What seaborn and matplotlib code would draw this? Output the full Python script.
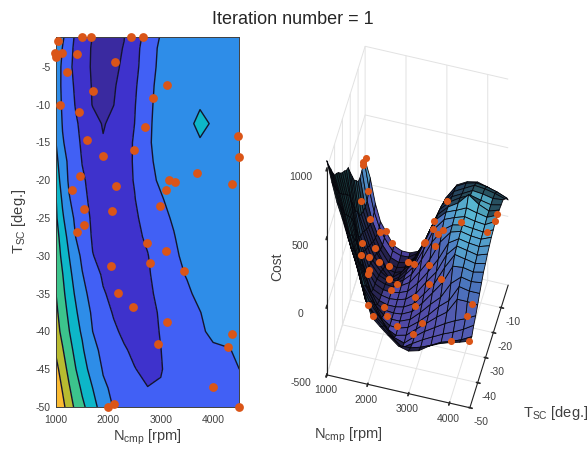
import matplotlib
matplotlib.use("Agg")
import matplotlib.pyplot as plt
import numpy as np
import seaborn as sns
from matplotlib.colors import LinearSegmentedColormap, LightSource, Normalize

n_grid = [1000, 1125, 1250, 1375, 1500, 1700, 1900, 2100, 2300, 2500, 2750, 3000, 3250, 3500, 3750, 4000, 4250, 4500]
t_grid = [-50, -47.5, -45, -42.5, -40, -37.5, -35, -32.5, -30, -27.5, -25, -22.5, -20, -17.5, -15, -12.5, -10, -7.5, -5, -2.5, -1]
cost_grid = [
    [1060, 910, 772, 667, 550, 372, 161, -5, -59, -110, -170, -190, -170, -120, -85, -60, -40, -15],
    [980, 844, 716, 600, 463, 280, 58, -44, -105, -159, -215, -212, -190, -159, -120, -97, -67, -28],
    [910, 780, 650, 508, 363, 201, -13, -90, -143, -212, -274, -226, -182, -143, -105, -74, -36, 10],
    [836, 716, 583, 436, 317, 74, -44, -120, -197, -262, -286, -222, -166, -120, -74, -36, -5, 34],
    [772, 650, 508, 363, 248, 10, -82, -182, -262, -292, -274, -212, -151, -90, -36, 74, 74, 66],
    [740, 600, 454, 317, 161, -28, -128, -238, -280, -286, -262, -205, -136, -59, 2, 121, 105, 105],
    [700, 550, 399, 248, 89, -82, -205, -262, -280, -280, -250, -182, -105, -36, 81, 145, 129, 137],
    [650, 508, 345, 185, 23, -136, -244, -274, -280, -274, -238, -159, -67, 26, 161, 169, 153, 169],
    [608, 454, 280, 105, -36, -215, -262, -280, -280, -268, -226, -136, -44, 89, 201, 185, 169, 185],
    [575, 408, 201, 10, -105, -238, -268, -280, -274, -256, -197, -97, -5, 137, 216, 201, 185, 209],
    [533, 317, 113, -36, -151, -244, -274, -280, -268, -244, -166, -67, 42, 177, 224, 209, 201, 224],
    [508, 240, 26, -74, -182, -256, -280, -286, -262, -226, -128, -21, 121, 209, 232, 216, 209, 240],
    [428, 158, -24, -113, -197, -274, -298, -304, -268, -212, -84, 58, 161, 216, 232, 224, 216, 248],
    [354, 105, -36, -136, -226, -292, -334, -334, -274, -205, -59, 105, 193, 224, 248, 232, 224, 264],
    [280, 31, -74, -174, -244, -322, -390, -352, -280, -205, -36, 129, 201, 232, 267, 248, 232, 264],
    [232, -5, -105, -197, -262, -346, -411, -364, -292, -220, -44, 121, 193, 240, 317, 264, 232, 256],
    [177, -28, -136, -232, -304, -407, -422, -402, -322, -232, -59, 113, 185, 232, 267, 248, 232, 248],
    [161, -44, -159, -250, -328, -411, -433, -415, -346, -250, -74, 97, 177, 216, 256, 248, 232, 240],
    [169, -44, -182, -268, -340, -418, -440, -429, -376, -274, -105, 74, 169, 209, 248, 240, 224, 200],
    [209, 2, -159, -262, -334, -415, -436, -433, -394, -286, -120, 58, 161, 201, 220, 210, 190, 160],
    [170, 50, -128, -250, -310, -404, -429, -429, -404, -304, -151, 26, 145, 185, 200, 180, 150, 120],
]

# sampled points
pts_n = [1032, 1503, 1668, 2439, 2655, 987, 994, 1121, 1407, 2120, 1216, 1713, 3120, 2852, 1076, 1439, 2693,
         1598, 4475, 2483, 1898, 4488, 1452, 2146, 3693, 3152, 3272, 4367, 1306, 3094, 2992, 1528, 2076,
         1541, 1395, 2738, 3094, 2801, 2050, 3438, 2184, 2477, 3113, 4361, 2941, 4278, 3998, 2114, 1999, 4490]
pts_t = [-1.6, -1, -1, -1, -1, -3.2, -3.7, -3.1, -3.3, -4.4, -5.7, -8.2, -7.4, -9.1, -10, -10.9, -12.9,
         -14.7, -14.2, -16, -16.8, -16.9, -19.4, -20.7, -19.1, -20, -20.2, -20.5, -21.3, -21.3, -23.4, -23.8, -24,
         -25.9, -26.8, -28.3, -29.3, -31, -31.3, -32, -34.9, -36.8, -38.7, -40.4, -41.6, -42.1, -47.4, -49.6, -50, -50]
pts_cost = [201, -310, -387, -334, -220, 193, 185, -5, -280, -429, -159, -418, 137, 2, 42, -262, -90,
            -280, 256, -212, -346, 256, -166, -292, 232, 129, 169, 232, -44, 58, -52, -174, -280,
            -166, -21, -212, -74, -220, -274, 34, -268, -286, -182, 74, -226, 10, -97, -5, 78, -15]

levels = [-400, -220, 10, 280, 500, 700, 860]
band_colors = ["#3a2aa0", "#3e32cc", "#4160f5", "#2e8de8", "#0db6c8", "#3cc48c", "#b8bb30", "#fbbb32"]
surf_colors = [(0, "#4a3f9a"), (0.2, "#5a56b8"), (0.38, "#4f7cc8"), (0.47, "#5cc0dc"), (0.7, "#3a8f95"), (1, "#1a4038")]
dot_color = "#da5518"
ink = "#404040"

sns.set_theme(style="white")
plt.rcParams["font.family"] = ["Liberation Sans", "DejaVu Sans"]
plt.rcParams["mathtext.default"] = "regular"
plt.rcParams["mathtext.fontset"] = "custom"
plt.rcParams["mathtext.rm"] = "Liberation Sans"
plt.rcParams["axes.unicode_minus"] = False

N, T = np.meshgrid(n_grid, t_grid)
Z = np.array(cost_grid, dtype=float)

W, H = 587, 449
fig = plt.figure(figsize=(W / 100, H / 100), dpi=100)

# --- left: filled contours
ax1 = fig.add_axes([56 / W, 1 - 407 / H, 183.3 / W, 370.3 / H])
ax1.contourf(N, T, Z, levels=[-1000] + levels + [2000], colors=band_colors)
ax1.contour(N, T, Z, levels=levels, colors="#14142e", linewidths=1.0, linestyles="solid")
sns.scatterplot(x=pts_n, y=pts_t, ax=ax1, color=dot_color, s=40, linewidth=0, clip_on=False, zorder=5)
ax1.set_xlim(1000, 4500)
ax1.set_ylim(-50, -1)
ax1.set_xticks([1000, 2000, 3000, 4000])
ax1.set_yticks(list(range(-50, -4, 5)))
ax1.tick_params(direction="in", length=3, width=0.6, color=ink, labelcolor=ink, labelsize=7.5,
                top=True, right=True, bottom=True, left=True)
ax1.tick_params(axis="x", pad=6)
ax1.tick_params(axis="y", pad=4)
for s in ax1.spines.values():
    s.set_color(ink)
    s.set_linewidth(0.7)
ax1.set_xlabel("N$_{cmp}$ [rpm]", color=ink, fontsize=10.5, labelpad=2)
ax1.set_ylabel("T$_{SC}$ [deg.]", color=ink, fontsize=10.5, labelpad=5)

# --- right: surface
ax2 = fig.add_axes([247 / W, 1 - 456 / H, 332 / W, 449 / H], projection="3d", proj_type="ortho")
ax2.set_facecolor("none")
ax2.computed_zorder = False
cmap = LinearSegmentedColormap.from_list("surf", surf_colors)
norm = Normalize(-450, 1050)
ax2.plot_surface(N, T, Z, rstride=1, cstride=1, facecolors=cmap(norm(Z)), edgecolor="#06060c", linewidth=0.6,
                 shade=True, lightsource=LightSource(azdeg=170, altdeg=35), antialiased=True, zorder=2)
ax2.scatter(pts_n, pts_t, pts_cost, color=dot_color, s=26, linewidth=0, depthshade=False, zorder=5)
ax2.set_xlim(1000, 4500)
ax2.set_ylim(-50, -1)
ax2.set_zlim(-500, 1000)
ax2.set_xticks([1000, 2000, 3000, 4000])
ax2.set_yticks([-50, -40, -30, -20, -10])
ax2.set_zticks([-500, 0, 500, 1000])
ax2.view_init(elev=59, azim=-75)
ax2.set_box_aspect((1, 1, 2.7), zoom=1.32)
for axis in (ax2.xaxis, ax2.yaxis, ax2.zaxis):
    axis.set_pane_color((1, 1, 1, 0))
    axis.pane.set_edgecolor("#00000000")
    axis.line.set_color("#202020")
    axis.line.set_linewidth(0.8)
    axis._axinfo["grid"]["color"] = "#e2e2e2"
    axis._axinfo["grid"]["linewidth"] = 0.7
    axis._axinfo["tick"]["color"] = ink
ax2.zaxis.set_ticks_position("lower")
ax2.tick_params(labelsize=7.5, labelcolor=ink, pad=0)
ax2.tick_params(axis="x", pad=-4)
ax2.tick_params(axis="y", pad=2)
ax2.tick_params(axis="z", pad=10)
for lab in ax2.get_yticklabels() + ax2.get_zticklabels():
    lab.set_va("bottom")

fig.text(293 / W, 1 - 19 / H, "Iteration number = 1", ha="center", va="center", fontsize=13, color="#262626")
fig.text(277 / W, 1 - 267 / H, "Cost", rotation=90, ha="center", va="center", fontsize=10, color=ink)
fig.text(348 / W, 1 - 435 / H, "N$_{cmp}$ [rpm]", ha="center", va="center", fontsize=10.5, color=ink, rotation=0)
fig.text(523 / W, 1 - 413 / H, "T$_{SC}$ [deg.]", ha="left", va="center", fontsize=10.5, color=ink)

fig.savefig("out.png", dpi=100)
